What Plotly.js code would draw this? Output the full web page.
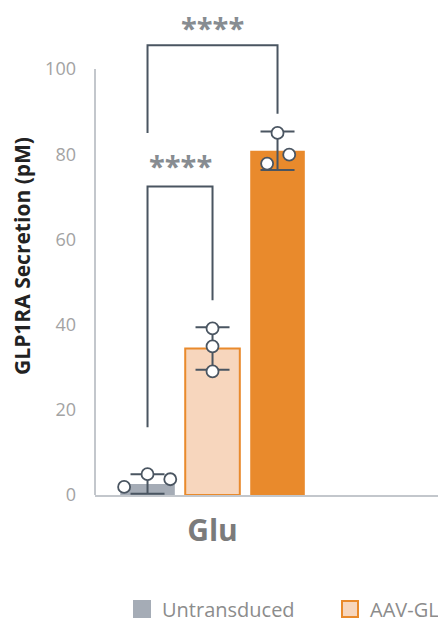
<!DOCTYPE html>
<html><head><meta charset="utf-8">
<script src="https://cdn.plot.ly/plotly-3.0.1.min.js"></script>
<style>html,body{margin:0;padding:0;overflow:hidden;background:#fff}#chart{width:900px;height:623px}</style>
</head><body><div id="chart"></div>
<script>
// ---- data ----
const groupLabels = ['Glu'];
const seriesNames = ['Untransduced', 'AAV-GLP1RA (low)', 'AAV-GLP1RA (high)'];
const barMeans = [2.6, 34.4, 80.8];
const barSD = [2.3, 5.0, 4.5];
const replicates = [[1.9, 4.9, 3.7], [39.1, 34.9, 29.0], [77.8, 85.0, 79.9]];
const comparisons = [[0, 2], [0, 1]];
const compLabels = ['****', '****'];
const bracketTop = [105.6, 72.4];
const bracketLeftEnd = [85.0, 15.9];
const bracketRightEnd = [89.5, 45.7];
const starLevel = [109.8, 77.4];
const yTicks = [0, 20, 40, 60, 80, 100];
const yAxisMax = 100;

// ---- style ----
const jitter = [[-0.36, 0, 0.35], [0, 0, 0], [-0.16, 0, 0.18]];
const fills = ['#a5acb6', '#f7d6bd', '#e98a2c'];
const borders = ['#a5acb6', '#e98a2c', '#e98a2c'];
const borderW = [0, 2, 0];
const ink = '#4a5561';
const axisGray = '#c3c7cc';
const FONT = 'Open Sans, DejaVu Sans, sans-serif';

const traces = [];
seriesNames.forEach((name, i) => {
  traces.push({
    type: 'bar', x: [i], y: [barMeans[i]], width: 0.84, name: name,
    marker: {color: fills[i], line: {color: borders[i], width: borderW[i]}},
    error_y: {type: 'data', array: [barSD[i]], color: ink, thickness: 2, width: 17},
    showlegend: false, hoverinfo: 'skip'
  });
});
seriesNames.forEach((name, i) => {
  traces.push({
    type: 'scatter', mode: 'markers',
    x: replicates[i].map((v, j) => i + jitter[i][j]), y: replicates[i],
    marker: {size: 12, color: '#ffffff', line: {color: ink, width: 1.8}},
    showlegend: false, cliponaxis: false, hoverinfo: 'skip'
  });
});
seriesNames.forEach((name, i) => {
  traces.push({
    type: 'scatter', mode: 'markers', x: [null], y: [null], name: name,
    marker: {symbol: 'square', size: 16, color: fills[i], line: {color: borders[i], width: 2}}
  });
});

const shapes = [{
  type: 'line', xref: 'paper', yref: 'y', x0: 0, x1: 0, y0: 0, y1: yAxisMax,
  line: {color: axisGray, width: 2}
}];
const annotations = [];
comparisons.forEach((c, k) => {
  const [a, b] = c;
  shapes.push({
    type: 'path', xref: 'x', yref: 'y',
    path: `M ${a},${bracketLeftEnd[k]} L ${a},${bracketTop[k]} L ${b},${bracketTop[k]} L ${b},${bracketRightEnd[k]}`,
    line: {color: ink, width: 2}
  });
  annotations.push({
    xref: 'x', yref: 'y', x: (a + b) / 2, y: starLevel[k], text: compLabels[k],
    showarrow: false, xanchor: 'center', yanchor: 'middle',
    font: {family: FONT, size: 29, weight: 700, color: '#878c91'}
  });
});

const plotRight = 800;
const plotTop = 17, plotBottom = 495, y100px = 69;
const layout = {
  width: 900, height: 623,
  margin: {l: 95, r: 900 - plotRight, t: plotTop, b: 623 - plotBottom, autoexpand: false},
  paper_bgcolor: '#ffffff', plot_bgcolor: '#ffffff',
  barmode: 'overlay',
  font: {family: FONT},
  xaxis: {
    range: [-0.808, -0.808 + (plotRight - 95) / 65], tickvals: [1], ticktext: groupLabels,
    showline: true, linecolor: axisGray, linewidth: 2, ticks: '',
    showgrid: false, zeroline: false,
    tickfont: {family: FONT, size: 30, weight: 700, color: '#7b7b7b'},
    ticklabelstandoff: 8
  },
  yaxis: {
    range: [0, yAxisMax * (plotBottom - plotTop) / (plotBottom - y100px)],
    tickvals: yTicks, showline: false, showgrid: false, zeroline: false,
    ticks: '', tickfont: {family: FONT, size: 18, color: '#a3a3a3'},
    ticklabelstandoff: 18,
    title: {text: 'GLP1RA Secretion (pM)', font: {family: FONT, size: 21, weight: 700, color: '#222222'}, standoff: 8}
  },
  legend: {
    orientation: 'h', x: (122 - 95) / (plotRight - 95), xanchor: 'left',
    y: -(609 - plotBottom) / (plotBottom - plotTop), yanchor: 'middle',
    entrywidth: 163, entrywidthmode: 'pixels',
    font: {family: FONT, size: 20, color: '#8c8c8c'}, bgcolor: 'rgba(0,0,0,0)'
  },
  shapes: shapes, annotations: annotations,
  showlegend: true
};

Plotly.newPlot('chart', traces, layout, {displayModeBar: false, staticPlot: true});
</script>
</body></html>
